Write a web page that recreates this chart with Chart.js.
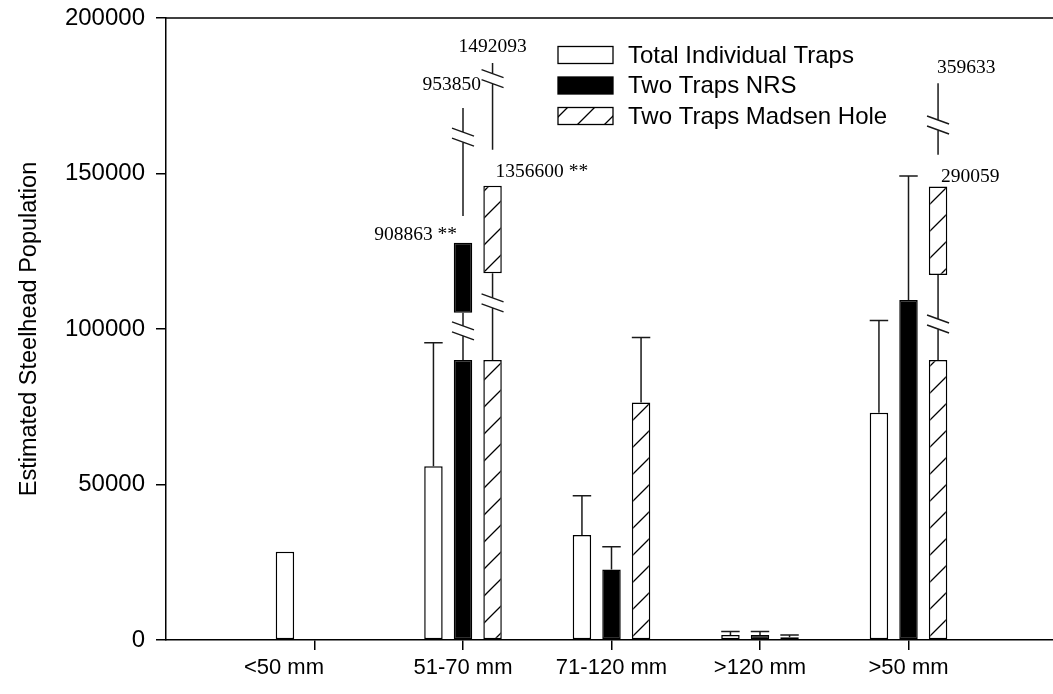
<!DOCTYPE html>
<html>
<head>
<meta charset="utf-8">
<script src="https://cdn.jsdelivr.net/npm/chart.js@4.4.0/dist/chart.umd.min.js"></script>
<style>
    html, body { margin: 0; padding: 0; background: #fff; overflow: hidden; }
    #wrap { width: 1053px; height: 694px; overflow: hidden; }
</style>
</head>
<body>
<div id="wrap"><canvas id="chart" width="1062" height="694"></canvas></div>
<script>
// Estimated steelhead population by size class
const categories = ['<50 mm', '51-70 mm', '71-120 mm', '>120 mm', '>50 mm'];
const seriesNames = ['Total Individual Traps', 'Two Traps NRS', 'Two Traps Madsen Hole'];

const totalTraps     = [28400, 55900, 33800, 1600, 73100];
const totalTrapsErr  = [null, 95600, 46400, 2700, 102700];
const nrsTraps       = [null, 908863, 22700, 1600, 109300];
const nrsTrapsErr    = [null, 953850, 30000, 2700, 149200];
const madsenTraps    = [null, 1356600, 76400, 900, 290059];
const madsenTrapsErr = [null, 1492093, 97300, 1600, 359633];

// Broken bars: the lower part stops at breakValue, the top part is drawn
// as a box higher up, and the whisker above it is broken too.
const breakValue = 90000;
const nrsTopBox        = [null, [105200, 127700], null, null, null];
const nrsTopWhisker    = [null, [136300, 171100], null, null, null];
const madsenTopBox     = [null, [117900, 146100], null, null, [117400, 145800]];
const madsenTopWhisker = [null, [157600, 185500], null, null, [156000, 179000]];
// where the // marks sit: [in the bar gap, in the whisker]
const nrsBreakMarks    = [null, [99400, 161700], null, null, null];
const madsenBreakMarks = [null, [108400, 180500], null, null, [101600, 165600]];
// note printed after the value label
const nrsNote    = [null, ' **', null, null, null];
const madsenNote = [null, ' **', null, null, ''];

const yTicks = [0, 50000, 100000, 150000, 200000];

const SANS = '"Liberation Sans", Arial, sans-serif';
const SERIF = '"Liberation Serif", "Times New Roman", serif';

const canvas = document.getElementById('chart');
const ctx0 = canvas.getContext('2d');

// diagonal hatch used for the Madsen Hole bars
function makeHatch() {
    const s = 27;
    const c = document.createElement('canvas');
    c.width = s; c.height = s;
    const g = c.getContext('2d');
    g.fillStyle = '#fff';
    g.fillRect(0, 0, s, s);
    g.strokeStyle = '#000';
    g.lineWidth = 1.3;
    g.beginPath();
    g.moveTo(0, s); g.lineTo(s, 0);
    g.moveTo(-2, 2); g.lineTo(2, -2);
    g.moveTo(s - 2, s + 2); g.lineTo(s + 2, s - 2);
    g.stroke();
    return ctx0.createPattern(c, 'repeat');
}
const hatch = makeHatch();

const pad = arr => [null, ...arr, null];
const lower = (vals, tops) => vals.map((v, i) => (tops[i] ? breakValue : v));

const barStyle = {
    borderColor: '#000',
    borderWidth: 1.5,
    borderSkipped: false,
    categoryPercentage: 0.597,
    barPercentage: 0.625
};

const datasets = [
    { ...barStyle, label: seriesNames[0], data: pad(totalTraps), backgroundColor: '#fff', stack: 'total' },
    { ...barStyle, label: seriesNames[1], data: pad(lower(nrsTraps, nrsTopBox)), backgroundColor: '#000', stack: 'nrs' },
    { ...barStyle, label: seriesNames[1] + ' top', data: pad(nrsTopBox), backgroundColor: '#000', stack: 'nrs' },
    { ...barStyle, label: seriesNames[2], data: pad(lower(madsenTraps, madsenTopBox)), backgroundColor: hatch, stack: 'madsen' },
    { ...barStyle, label: seriesNames[2] + ' top', data: pad(madsenTopBox), backgroundColor: hatch, stack: 'madsen' }
];

// vertical line cut by two slanted marks at yMark
function brokenLine(ctx, x, yBottom, yTop, yMark) {
    const gap = 5;
    ctx.beginPath();
    ctx.moveTo(x, yBottom); ctx.lineTo(x, yMark + gap);
    ctx.moveTo(x, yMark - gap); ctx.lineTo(x, yTop);
    [-gap, gap].forEach(d => {
        ctx.moveTo(x - 11, yMark + d - 4);
        ctx.lineTo(x + 11, yMark + d + 4);
    });
    ctx.stroke();
}

function drawWhiskers(chart, dsIndex, values, errs, topBox, topWhisker, marks) {
    const ctx = chart.ctx;
    const y = chart.scales.y;
    const meta = chart.getDatasetMeta(dsIndex);
    values.forEach((v, i) => {
        const el = meta.data[i + 1];
        if (!el || v === null) return;
        const x = el.x;
        if (topBox && topBox[i]) {
            brokenLine(ctx, x, y.getPixelForValue(breakValue), y.getPixelForValue(topBox[i][0]), y.getPixelForValue(marks[i][0]));
            const w = topWhisker[i];
            brokenLine(ctx, x, y.getPixelForValue(w[0]), y.getPixelForValue(w[1]), y.getPixelForValue(marks[i][1]));
            return;
        }
        if (errs[i] === null) return;
        const y0 = y.getPixelForValue(v);
        const y1 = y.getPixelForValue(errs[i]);
        const half = el.width / 2;
        ctx.beginPath();
        ctx.moveTo(x, y0); ctx.lineTo(x, y1);
        ctx.moveTo(x - half, y1); ctx.lineTo(x + half, y1);
        ctx.stroke();
    });
}

const extras = {
    id: 'extras',
    afterDatasetsDraw(chart) {
        const ctx = chart.ctx;
        const area = chart.chartArea;
        const y = chart.scales.y;
        ctx.save();
        ctx.strokeStyle = '#1a1a1a';
        ctx.lineWidth = 1.5;
        drawWhiskers(chart, 0, totalTraps, totalTrapsErr, null, null, null);
        drawWhiskers(chart, 1, nrsTraps, nrsTrapsErr, nrsTopBox, nrsTopWhisker, nrsBreakMarks);
        drawWhiskers(chart, 3, madsenTraps, madsenTrapsErr, madsenTopBox, madsenTopWhisker, madsenBreakMarks);

        // top frame line
        ctx.strokeStyle = '#000';
        ctx.beginPath();
        ctx.moveTo(area.left, area.top);
        ctx.lineTo(area.right, area.top);
        ctx.stroke();

        // labels of the broken bars
        ctx.fillStyle = '#000';
        ctx.font = '19.5px ' + SERIF;
        ctx.textBaseline = 'alphabetic';
        const nrsMeta = chart.getDatasetMeta(1);
        nrsTopBox.forEach((box, i) => {
            if (!box) return;
            const x = nrsMeta.data[i + 1].x;
            ctx.textAlign = 'right';
            ctx.fillText(nrsTraps[i] + nrsNote[i], x - 6, y.getPixelForValue(box[1]) - 3);
            ctx.fillText(String(nrsTrapsErr[i]), x + 18, y.getPixelForValue(nrsTopWhisker[i][1]) - 18);
        });
        const madMeta = chart.getDatasetMeta(3);
        madsenTopBox.forEach((box, i) => {
            if (!box) return;
            const x = madMeta.data[i + 1].x;
            const last = i === madsenTopBox.length - 1;
            ctx.textAlign = 'left';
            ctx.fillText(madsenTraps[i] + madsenNote[i], x + 3, y.getPixelForValue(box[1]) - (last ? 5 : 9));
            ctx.textAlign = last ? 'left' : 'center';
            ctx.fillText(String(madsenTrapsErr[i]), last ? x - 1 : x, y.getPixelForValue(madsenTopWhisker[i][1]) - (last ? 10 : 11));
        });

        // legend
        const fills = ['#fff', '#000', hatch];
        const lx = 558, ly = 55, row = 30.5, bw = 55, bh = 17;
        ctx.font = '24px ' + SANS;
        ctx.textAlign = 'left';
        ctx.textBaseline = 'middle';
        seriesNames.forEach((name, k) => {
            const cy = ly + k * row;
            ctx.fillStyle = fills[k];
            ctx.fillRect(lx, cy - bh / 2, bw, bh);
            ctx.strokeStyle = '#000';
            ctx.lineWidth = 1.3;
            ctx.strokeRect(lx, cy - bh / 2, bw, bh);
            ctx.fillStyle = '#000';
            ctx.fillText(name, lx + bw + 15, cy + 1);
        });
        ctx.restore();
    }
};

new Chart(canvas, {
    type: 'bar',
    data: { labels: ['', ...categories, ''], datasets: datasets },
    options: {
        responsive: false,
        animation: false,
        devicePixelRatio: 1,
        layout: { padding: { top: 18, right: 3.8, left: 0, bottom: 0 } },
        plugins: {
            legend: { display: false },
            tooltip: { enabled: false }
        },
        scales: {
            x: {
                stacked: true,
                offset: false,
                grid: {
                    offset: false,
                    drawOnChartArea: false,
                    tickLength: 10,
                    lineWidth: 1.5,
                    color: c => (c.tick && c.tick.label ? '#000' : 'rgba(0,0,0,0)')
                },
                border: { color: '#000', width: 1.5 },
                ticks: {
                    color: '#000',
                    font: { family: SANS, size: 22 },
                    padding: 5,
                    maxRotation: 0,
                    autoSkip: false,
                    // the first label sits under its only bar, not the group centre
                    callback: function (v, i) {
                        const text = this.getLabelForValue(v);
                        return i === 1 ? text + '          ' : text;
                    }
                },
                afterFit: s => { s.height = 54; }
            },
            y: {
                stacked: false,
                min: 0,
                max: 200000,
                afterBuildTicks: s => { s.ticks = yTicks.map(v => ({ value: v })); },
                grid: { drawOnChartArea: false, tickLength: 10, lineWidth: 1.5, color: '#000' },
                border: { color: '#000', width: 1.5 },
                ticks: {
                    color: '#000',
                    font: { family: SANS, size: 24, lineHeight: 0.5 },
                    padding: 11,
                    callback: v => String(v)
                },
                title: {
                    display: true,
                    text: 'Estimated Steelhead Population',
                    color: '#000',
                    font: { family: SANS, size: 23.5 },
                    padding: { top: 15, bottom: 0 }
                },
                afterFit: s => { s.width = 166; }
            }
        }
    },
    plugins: [extras]
});
</script>
</body>
</html>
